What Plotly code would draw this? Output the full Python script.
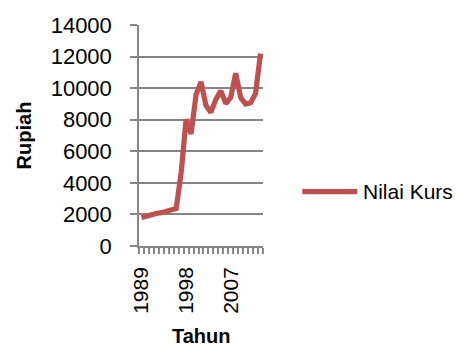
import plotly.graph_objects as go

# Annual exchange rate (Rupiah per USD)
years = [str(y) for y in range(1989, 2014)]
nilai_kurs = [1800, 1901, 1992, 2062, 2110, 2200, 2308, 2383, 4650, 8025,
              7100, 9595, 10400, 8900, 8465, 9290, 9830, 9020, 9419, 10950,
              9400, 8991, 9068, 9670, 12189]
label_years = ["1989", "1998", "2007"]
y_ticks = list(range(0, 14001, 2000))
series_name = "Nilai Kurs"
x_title = "Tahun"
y_title = "Rupiah"

GRID = "#868686"
RED = "#C0504D"
FONT = "Liberation Sans"

fig = go.Figure()
fig.add_trace(go.Scatter(
    x=years, y=nilai_kurs, mode="lines", name=series_name,
    line=dict(color=RED, width=5.2), showlegend=False,
))

# Legend drawn beside the plot: a line sample and the series name
fig.add_shape(type="line", xref="paper", yref="paper",
              x0=1.317, x1=1.76, y0=0.246, y1=0.246,
              line=dict(color=RED, width=5.2))
fig.add_annotation(xref="paper", yref="paper", x=1.79, y=0.246,
                   xanchor="left", yanchor="middle", showarrow=False,
                   text=series_name,
                   font=dict(family=FONT, size=21, color="black"))

# Category axis title placed below the rotated year labels
fig.add_annotation(xref="paper", yref="paper", x=0.5, y=-0.405,
                   xanchor="center", yanchor="middle", showarrow=False,
                   text="<b>%s</b>" % x_title,
                   font=dict(family=FONT, size=20, color="black"))

fig.update_layout(
    width=459, height=348,
    margin=dict(l=139, r=196, t=25, b=102),
    paper_bgcolor="white", plot_bgcolor="white",
    font=dict(family=FONT, size=22, color="black"),
    showlegend=False,
)

fig.update_xaxes(
    type="category", range=[-0.5, len(years) - 0.5],
    tickmode="array", tickvals=years,
    ticktext=[y if y in label_years else "" for y in years],
    tickangle=-90, tickson="boundaries",
    ticks="outside", ticklen=6, tickcolor=GRID, tickwidth=1.5,
    showline=True, linecolor=GRID, linewidth=1.5,
    showgrid=False, zeroline=False, automargin=False,
    tickfont=dict(family=FONT, size=21),
    ticklabelstandoff=11,
)

fig.update_yaxes(
    range=[0, 14000], tickmode="array", tickvals=y_ticks,
    ticktext=[str(v) for v in y_ticks],
    ticks="outside", ticklen=7, tickcolor=GRID, tickwidth=1.5,
    showline=True, linecolor=GRID, linewidth=1.5,
    showgrid=True, gridcolor=GRID, gridwidth=1.5, zeroline=False,
    automargin=False,
    tickfont=dict(family=FONT, size=22),
    ticklabelstandoff=14,
    title=dict(text="<b>%s</b>" % y_title, font=dict(family=FONT, size=20), standoff=14),
)

fig.write_html("out.html")
